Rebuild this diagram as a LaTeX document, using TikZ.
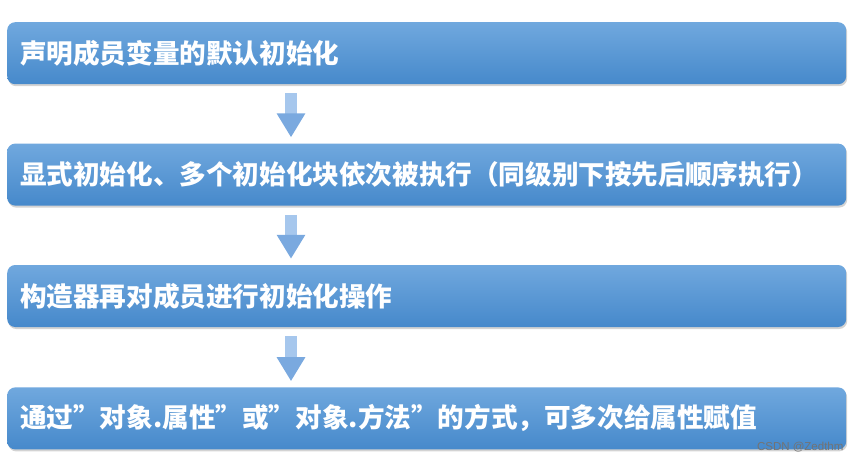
\documentclass[tikz,border=0pt]{standalone}
\usepackage{fontspec}
\newfontfamily\cjk{Noto Sans CJK SC}
\newfontfamily\wmfont{Liberation Sans}
\usepackage{tikz}
\usetikzlibrary{positioning,arrows.meta,shadows}
\definecolor{boxtop}{RGB}{112,168,222}
\definecolor{boxbot}{RGB}{70,137,203}
\definecolor{arrlight}{RGB}{166,199,237}
\definecolor{arrdark}{RGB}{122,169,223}

\begin{document}
\begin{tikzpicture}[>=Stealth,
  stepbox/.style={rounded corners=8pt,top color=boxtop,bottom color=boxbot,
    minimum width=839pt,minimum height=62pt,text width=813pt,align=left,
    inner xsep=13pt,text=white,font=\cjk\bfseries\fontsize{26.6}{30}\selectfont,
    drop shadow={opacity=0.35,shadow xshift=1pt,shadow yshift=-2pt}},
  down/.style={line width=12pt,draw=arrlight,
    -{Triangle[width=27pt,length=24pt,color=arrdark]}}]
  \useasboundingbox (0,0) rectangle (863pt,-463pt);
  \node[stepbox,anchor=north west] (s1) at (7pt,-22pt) {声明成员变量的默认初始化};
  \node[stepbox,below=59pt of s1] (s2) {显式初始化、多个初始化块依次被执行（同级别下按先后顺序执行）};
  \node[stepbox,below=59pt of s2] (s3) {构造器再对成员进行初始化操作};
  \node[stepbox,below=60pt of s3] (s4) {通过”对象.属性”或”对象.方法”的方式，可多次给属性赋值};
  \foreach \a/\b in {s1/s2,s2/s3,s3/s4}{
    \draw[down] ([xshift=284pt,yshift=-9pt]\a.south west) -- ([xshift=284pt,yshift=6pt]\b.north west);}
  \node[text=gray!90!black,font=\wmfont\fontsize{11.5}{12}\selectfont,anchor=east] (wm) at (847pt,-447pt) {CSDN @Zedthm};
\end{tikzpicture}
\end{document}
